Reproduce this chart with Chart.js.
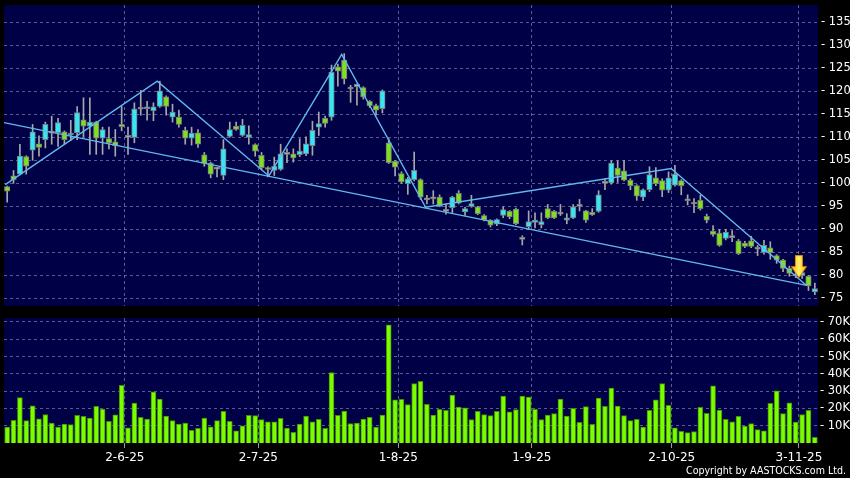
<!DOCTYPE html>
<html>
<head>
<meta charset="utf-8">
<script src="https://cdn.jsdelivr.net/npm/chart.js@4.4.1/dist/chart.umd.min.js"></script>
<style>
html, body { margin: 0; padding: 0; background: #000; }
#wrap { position: relative; width: 850px; height: 478px; background: #000; }
#price { position: absolute; left: 0; top: 0; }
#vol { position: absolute; left: 0; top: 312px; }
</style>
</head>
<body>
<div id="wrap">
  <canvas id="price" width="850" height="312"></canvas>
  <canvas id="vol" width="850" height="166"></canvas>
</div>
<script>
// daily candles, one per session (oldest first)
const openP = [99.3,101.6,102.0,105.8,107.2,108.6,109.5,110.9,111.0,111.2,110.5,111.0,113.8,112.4,113.3,109.8,109.7,109.0,112.8,110.0,
  110.0,116.1,116.2,115.8,116.7,118.8,114.4,114.4,111.5,109.8,111.0,106.2,104.4,103.1,101.7,110.2,112.4,110.4,110.0,108.4,
  106.1,103.4,102.8,103.0,106.3,106.4,106.2,106.4,108.2,112.2,114.1,114.4,125.3,126.8,120.5,121.0,120.8,117.8,116.9,116.2,
  108.8,104.8,102.1,99.9,100.8,100.8,96.4,96.6,97.0,94.1,94.7,97.8,93.8,95.0,94.9,93.0,92.0,91.1,93.0,93.9,
  94.4,87.8,90.6,91.5,91.0,94.5,93.9,93.3,92.0,92.5,95.0,94.0,93.7,93.9,100.0,100.1,103.3,102.7,100.7,99.5,
  97.0,98.6,101.2,100.6,98.5,99.6,100.6,96.2,95.5,96.3,92.8,89.6,89.2,88.0,88.2,87.5,87.0,87.5,85.9,85.0,
  86.0,84.3,83.3,81.5,79.9,80.0,79.8,76.4];
const highP = [99.4,102.8,108.5,106.0,112.8,110.3,113.3,114.6,114.1,111.4,113.7,116.7,118.6,118.6,113.5,112.2,112.2,111.7,116.7,112.2,
  117.5,120.2,117.8,117.5,122.2,119.0,117.2,115.9,112.2,112.2,111.7,106.7,104.6,103.5,109.5,113.3,113.3,113.9,112.5,108.6,
  106.7,103.6,105.7,108.5,107.5,107.5,109.7,110.1,113.5,115.5,114.6,125.7,125.9,128.2,121.3,121.6,121.0,118.0,117.2,120.3,
  109.7,105.0,102.5,101.3,106.8,101.0,97.4,98.4,97.5,95.5,97.2,98.4,94.8,97.4,95.0,93.2,92.1,92.3,94.9,94.1,
  94.6,88.6,94.0,93.6,93.6,95.4,94.1,95.4,93.4,95.4,96.5,94.1,94.5,98.4,101.0,104.9,104.9,105.0,101.0,99.7,
  98.8,103.6,103.4,101.0,102.5,103.9,100.8,97.5,96.7,97.4,93.3,90.8,90.0,90.0,89.7,87.8,87.4,88.5,86.5,87.6,
  87.3,84.5,83.5,82.0,81.2,81.0,80.0,78.3];
const lowP = [95.9,100.0,101.8,102.0,105.0,105.9,107.7,108.5,108.0,108.5,109.3,109.5,110.1,106.3,106.3,106.3,107.5,105.9,111.4,106.3,
  108.8,114.8,113.7,113.6,116.5,114.8,113.3,112.2,108.5,108.3,107.8,103.7,101.2,101.4,100.8,110.0,111.5,110.2,108.5,105.9,
  103.0,101.4,101.7,102.8,104.5,104.6,105.8,106.0,106.1,110.4,112.2,113.7,121.1,121.6,117.6,117.0,118.3,116.5,114.8,115.3,
  104.3,101.6,100.0,97.6,100.5,96.5,95.5,95.5,94.9,93.3,93.6,95.5,93.0,94.8,93.2,91.8,90.5,90.8,92.5,92.3,
  91.0,86.6,90.0,90.3,90.3,92.3,92.3,93.0,91.2,92.3,94.0,91.5,93.0,93.7,98.6,99.8,100.2,100.5,98.6,96.3,
  96.2,98.2,99.5,97.1,98.0,99.4,97.5,95.3,93.6,94.2,91.4,88.5,86.3,87.7,87.3,84.5,86.0,86.0,84.3,84.6,
  83.5,82.6,80.8,79.8,79.5,79.3,76.7,75.8];
const closeP = [98.3,100.8,105.9,103.7,111.2,107.8,112.8,111.1,113.2,109.5,110.9,115.4,112.4,113.3,109.8,111.7,108.8,108.2,112.3,110.2,
  116.2,116.3,116.6,116.6,120.1,116.7,115.5,112.8,109.8,110.9,108.5,104.3,102.0,103.3,107.5,111.7,111.7,112.6,110.6,107.0,
  103.4,103.0,103.7,106.4,106.5,105.5,107.0,108.6,111.5,113.0,113.0,124.1,124.4,122.7,120.7,121.5,118.8,116.9,115.9,120.1,
  104.5,103.5,100.3,101.0,102.8,97.0,96.6,96.8,95.0,93.9,97.0,95.7,94.5,95.6,93.4,92.1,90.9,92.1,94.3,92.7,
  91.2,88.0,91.7,92.0,91.7,92.5,92.5,93.5,92.5,94.9,95.2,92.0,93.2,97.5,100.2,104.4,101.7,100.7,99.5,97.2,
  98.6,101.9,99.9,98.5,101.2,102.0,99.5,96.4,95.7,94.5,92.0,88.9,86.5,89.4,88.4,84.7,86.3,86.3,85.7,86.5,
  84.9,83.3,81.5,80.4,80.3,80.6,77.7,77.1];

// volume in thousands of shares
const volumeK = [9.2,13.1,26.2,12.9,21.5,14.0,16.5,11.5,9.2,11.0,10.6,16.0,15.4,14.4,21.2,19.6,12.5,16.3,33.3,8.8,
  23.1,14.8,13.8,29.6,25.4,15.6,12.9,11.0,11.5,7.3,8.5,14.4,9.4,12.9,18.3,12.5,7.1,10.0,16.0,15.8,
  13.5,12.3,12.3,14.3,8.7,6.2,11.0,15.6,12.3,13.7,8.5,40.8,16.0,18.5,11.2,11.5,13.9,14.8,9.2,16.2,
  68.4,24.9,25.2,22.2,34.3,35.6,22.4,16.2,19.5,18.9,27.7,20.8,20.4,13.5,18.3,16.5,15.8,18.3,27.2,18.1,
  19.3,27.2,26.6,19.5,13.5,16.2,17.0,25.4,15.6,20.0,11.9,21.0,10.8,26.0,21.2,31.8,21.4,15.8,12.9,13.7,
  9.2,18.9,24.9,34.3,21.8,8.8,6.7,6.0,6.6,20.6,17.1,33.0,19.1,13.7,12.3,15.4,9.8,11.2,7.7,7.1,
  22.9,30.2,17.0,23.3,12.1,16.5,18.9,3.3];

const dateLabels = ['2-6-25', '2-7-25', '1-8-25', '1-9-25', '2-10-25', '3-11-25'];
const dateIndex = [19, 40, 62, 83, 105, 125];   // session index of each labelled day
const priceTicks = [75, 80, 85, 90, 95, 100, 105, 110, 115, 120, 125, 130, 135];
const volTicks = [10, 20, 30, 40, 50, 60, 70];

// hand drawn trend lines (session index, price)
const zigX = [-0.3, 23.6, 41.15, 52.6, 65.8, 104.4, 125.7];
const zigY = [99.7, 122.2, 101.6, 128.0, 94.8, 103.2, 77.8];
const trendX = [-0.5, 125.7];
const trendY = [113.2, 77.8];

// signal arrow
const markerX = [124.5];
const markerY = [81.9];

const navy = '#000046';
const gridCol = 'rgba(150,150,195,0.6)';
const trendCol = '#62b8ee';
const font = 'DejaVu Sans';

const panelBg = {
  id: 'panelBg',
  beforeDraw(chart) {
    const { ctx, chartArea: a } = chart;
    ctx.save();
    ctx.fillStyle = navy;
    ctx.fillRect(a.left, a.top, a.width, a.height);
    ctx.restore();
  }
};

// no automatic label padding, the layout below is fixed by hand
function noPad(s) {
  s.paddingTop = 0;
  s.paddingBottom = 0;
  s.paddingLeft = 0;
  s.paddingRight = 0;
}

// yellow down arrow used as point style
const arrowImg = document.createElement('canvas');
arrowImg.width = 16;
arrowImg.height = 23;
(function () {
  const a = arrowImg.getContext('2d');
  const g = a.createLinearGradient(0, 0, 16, 0);
  g.addColorStop(0, '#ffb400');
  g.addColorStop(0.5, '#fff066');
  g.addColorStop(1, '#ffb400');
  a.beginPath();
  a.moveTo(4.5, 0.5);
  a.lineTo(11.5, 0.5);
  a.lineTo(11.5, 11.5);
  a.lineTo(15.5, 11.5);
  a.lineTo(8, 22.5);
  a.lineTo(0.5, 11.5);
  a.lineTo(4.5, 11.5);
  a.closePath();
  a.fillStyle = g;
  a.fill();
  a.strokeStyle = '#d98a00';
  a.lineWidth = 1;
  a.stroke();
})();

function xScale(showLabels) {
  return {
    type: 'linear',
    min: -0.5,
    max: openP.length - 0.5,
    offset: false,
    afterBuildTicks: s => { s.ticks = dateIndex.map(i => ({ value: i - 0.5 })); },
    afterFit: s => { s.height = showLabels ? 35 : 0; noPad(s); },
    grid: { color: gridCol, offset: false, drawTicks: showLabels, tickLength: 5, tickColor: '#9a9a9a', tickBorderDash: [] },
    border: { display: false, dash: [3, 3] },
    ticks: {
      display: showLabels, color: '#fff', font: { family: font, size: 12 }, padding: 3,
      maxRotation: 0, autoSkip: false, callback: (v, i) => dateLabels[i]
    }
  };
}

const bodyColors = openP.map((o, i) => {
  const c = closeP[i];
  if (Math.abs(c - o) < 0.25) return '#b4b4b4';
  return c > o ? '#36e6f6' : '#7ee01e';
});

new Chart(document.getElementById('price'), {
  type: 'bar',
  data: {
    datasets: [
      {
        type: 'scatter',
        data: markerX.map((x, i) => ({ x, y: markerY[i] })),
        pointStyle: arrowImg,
        pointRadius: 10,
        order: 0
      },
      {
        type: 'line',
        data: zigX.map((x, i) => ({ x, y: zigY[i] })),
        borderColor: trendCol, borderWidth: 1.4, pointRadius: 0, tension: 0,
        order: 1
      },
      {
        type: 'line',
        data: trendX.map((x, i) => ({ x, y: trendY[i] })),
        borderColor: trendCol, borderWidth: 1.4, pointRadius: 0, tension: 0,
        order: 1
      },
      {
        type: 'bar',
        data: openP.map((o, i) => ({ x: i, y: [o, closeP[i]] })),
        backgroundColor: bodyColors,
        borderColor: '#7a7a7a',
        borderWidth: 1,
        borderSkipped: false,
        barThickness: 5.5,
        minBarLength: 2,
        grouped: false,
        order: 2
      },
      {
        type: 'bar',
        data: lowP.map((l, i) => ({ x: i, y: [l, highP[i]] })),
        backgroundColor: '#a8a8a8',
        barThickness: 1,
        grouped: false,
        order: 3
      }
    ]
  },
  options: {
    responsive: false,
    devicePixelRatio: 1,
    animation: false,
    events: [],
    layout: { autoPadding: false, padding: { left: 4, top: 5, right: 0, bottom: 6 } },
    plugins: { legend: { display: false }, tooltip: { enabled: false } },
    scales: {
      x: xScale(false),
      y: {
        type: 'linear',
        position: 'right',
        min: 73.33,
        max: 138.76,
        afterBuildTicks: s => { s.ticks = priceTicks.map(v => ({ value: v })); },
        afterFit: s => { s.width = 32; noPad(s); },
        grid: { color: gridCol, drawTicks: false },
        border: { display: false, dash: [3, 3] },
        ticks: { color: '#fff', font: { family: font, size: 11.5 }, padding: 3, callback: v => '- ' + v }
      }
    }
  },
  plugins: [panelBg]
});

const copyright = {
  id: 'copyright',
  afterDraw(chart) {
    const ctx = chart.ctx;
    ctx.save();
    ctx.fillStyle = '#fff';
    ctx.font = '11px "DejaVu Sans"';
    ctx.textAlign = 'right';
    ctx.textBaseline = 'middle';
    ctx.fillText('Copyright by AASTOCKS.com Ltd.', 846, 159, 160);
    ctx.restore();
  }
};

new Chart(document.getElementById('vol'), {
  type: 'bar',
  data: {
    datasets: [{
      data: volumeK.map((v, i) => ({ x: i, y: v })),
      backgroundColor: '#7cfc00',
      borderColor: '#3f9000',
      borderWidth: 1,
      borderSkipped: 'bottom',
      barThickness: 5
    }]
  },
  options: {
    responsive: false,
    devicePixelRatio: 1,
    animation: false,
    events: [],
    layout: { autoPadding: false, padding: { left: 4, top: 6, right: 0, bottom: 0 } },
    plugins: { legend: { display: false }, tooltip: { enabled: false } },
    scales: {
      x: xScale(true),
      y: {
        type: 'linear',
        position: 'right',
        min: 0,
        max: 72.3,
        afterBuildTicks: s => { s.ticks = volTicks.map(v => ({ value: v })); },
        afterFit: s => { s.width = 32; noPad(s); },
        grid: { color: gridCol, drawTicks: false },
        border: { display: false, dash: [3, 3] },
        ticks: { color: '#fff', font: { family: font, size: 11.5 }, padding: 2, callback: v => '- ' + v + 'K' }
      }
    }
  },
  plugins: [panelBg, copyright]
});
</script>
</body>
</html>
